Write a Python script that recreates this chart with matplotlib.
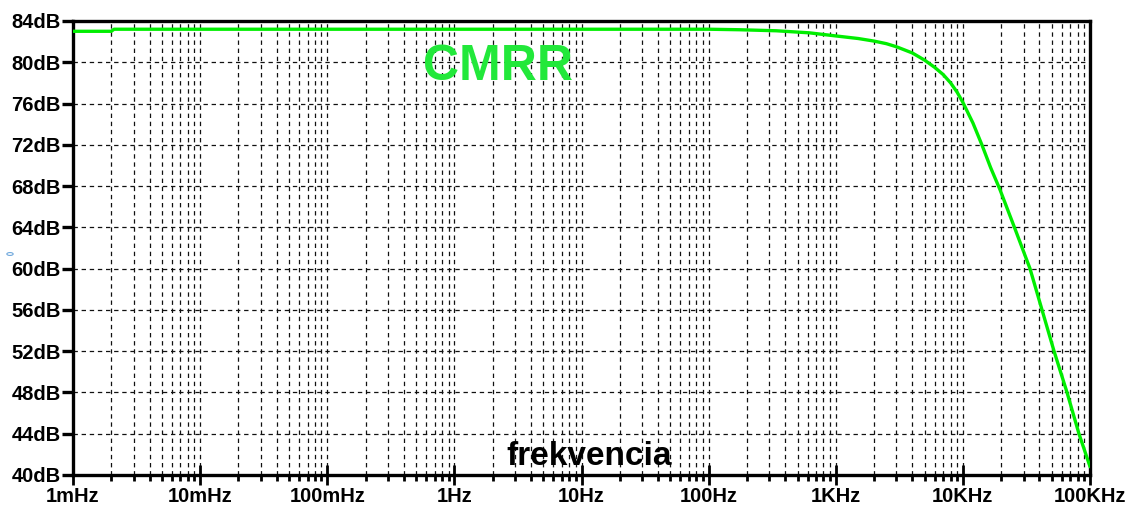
import numpy as np
import matplotlib.pyplot as plt
from matplotlib.ticker import FixedLocator, LogLocator, NullFormatter

# CMRR curve (frequency in Hz, level in dB)
freq = [1e-3, 2.0e-3, 2.1e-3, 1e-2, 1e-1, 1, 10, 100, 175, 340, 620, 1000,
        1500, 2000, 2500, 3000, 4000, 5000, 6000, 7000, 8000, 9000, 10000,
        12000, 14100, 16500, 19500, 25600, 33700, 41900, 52100, 65900,
        81800, 100000]
cmrr = [83.0, 83.0, 83.2, 83.2, 83.2, 83.2, 83.2, 83.2, 83.15, 83.05, 82.85,
        82.55, 82.3, 82.05, 81.8, 81.5, 80.9, 80.2, 79.5, 78.8, 78.0, 77.1,
        76.1, 74.1, 72.0, 69.8, 67.7, 63.9, 60.0, 56.0, 52.0, 48.0,
        44.0, 40.8]

x_ticks = [1e-3, 1e-2, 1e-1, 1, 10, 100, 1e3, 1e4, 1e5]
x_labels = ['1mHz', '10mHz', '100mHz', '1Hz', '10Hz', '100Hz', '1KHz', '10KHz', '100KHz']
y_ticks = list(range(40, 85, 4))
y_labels = [f'{v}dB' for v in y_ticks]

plt.rcParams['font.family'] = ['Liberation Sans', 'DejaVu Sans']

fig = plt.figure(figsize=(11.29, 5.09), dpi=100)
ax = fig.add_axes([0.0647, 0.0668, 0.9008, 0.892])

ax.plot(freq, cmrr, color='#00ee00', lw=2.4, solid_capstyle='round',
        solid_joinstyle='round', zorder=3)

ax.set_xscale('log')
ax.set_xlim(1e-3, 1e5)
ax.set_ylim(40, 84)

ax.xaxis.set_major_locator(FixedLocator(x_ticks))
ax.set_xticklabels(x_labels)
ax.xaxis.set_minor_locator(LogLocator(base=10, subs=np.arange(2, 10), numticks=20))
ax.xaxis.set_minor_formatter(NullFormatter())
ax.set_yticks(y_ticks)
ax.set_yticklabels(y_labels)

ax.grid(True, which='both', axis='x', color='#111111', ls=(0, (3.5, 3)), lw=0.9)
ax.grid(True, which='major', axis='y', color='#111111', ls=(0, (3.5, 3)), lw=0.9)

for s in ax.spines.values():
    s.set_linewidth(2.4)
    s.set_color('black')

ax.tick_params(axis='y', which='major', direction='out', length=8, width=2.4,
               labelsize=14.5, pad=1)
ax.tick_params(axis='x', which='major', direction='inout', length=14, width=2,
               labelsize=14.5, pad=2)
ax.tick_params(axis='x', which='minor', direction='out', length=4, width=2)
for lbl in ax.get_xticklabels() + ax.get_yticklabels():
    lbl.set_fontweight('bold')

ax.text(0.418, 0.898, 'CMRR', transform=ax.transAxes, ha='center', va='center',
        fontsize=36, fontweight='bold', color='#22e83a')
ax.text(0.507, 0.022, 'frekvencia', transform=ax.transAxes, ha='center',
        va='baseline', fontsize=24, fontweight='bold', color='black')

# small cursor ring at the left edge of the screenshot
fig.add_artist(plt.Circle((10 / 1129, 1 - 254 / 509), 0.0028, transform=fig.transFigure,
                          fill=False, ec='#6fa8dc', lw=0.8))

fig.savefig('out.png', dpi=100, facecolor='white')
